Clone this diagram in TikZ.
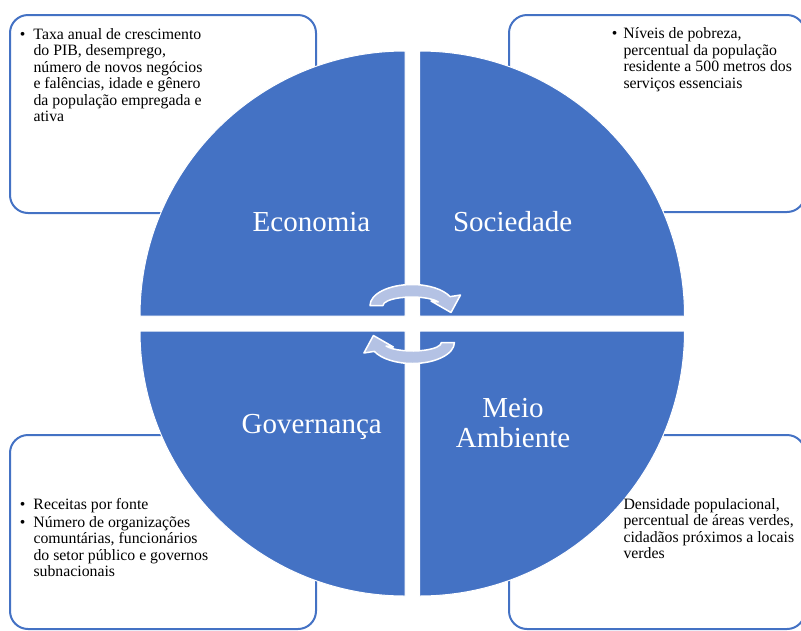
\documentclass[tikz,border=0pt]{standalone}
\usepackage{fontspec}
\setmainfont{Liberation Serif}
\definecolor{quadblue}{RGB}{68,114,196}
\definecolor{arrowblue}{RGB}{180,194,228}
\newcommand{\bul}[1]{\llap{\textbullet\hspace{#1}}}
\tikzset{
  infobox/.style={draw=quadblue, line width=2pt, rounded corners=18pt},
  quadrant/.style={fill=quadblue, draw=white, line width=1pt},
  quadlabel/.style={text=white, font=\fontsize{29}{30}\selectfont, align=center, inner sep=0pt, anchor=base},
  infotext/.style={font=\fontsize{15.8}{16.5}\selectfont, align=left, inner sep=0pt, anchor=base west},
  cyclearrow/.style={fill=arrowblue, draw=white, line width=1.5pt, line join=round},
  turnarrow/.pic={
    \filldraw[cyclearrow] (-42,0) arc[start angle=180, end angle=335, x radius=42, y radius=21]
      -- (48.5,-10.5) -- (39,7) -- (19,-4.5) -- (26.28,-3.59)
      arc[start angle=335, end angle=180, x radius=29, y radius=8.5] -- cycle;
  }
}
\begin{document}
\begin{tikzpicture}[x=1pt,y=-1pt]
\useasboundingbox (0,0) rectangle (801,630);
%%% the four boxes behind the circle
\draw[infobox] (10,15) rectangle (316,213);
\draw[infobox] (509,15) rectangle (805,212);
\draw[infobox] (10,435) rectangle (316,629);
\draw[infobox] (509,435) rectangle (805,629);
%%% the circle in four quarters
\filldraw[quadrant] (405,316) -- (140,316) arc[start angle=180, end angle=270, radius=265] -- cycle;
\filldraw[quadrant] (419.5,316) -- (419.5,51) arc[start angle=270, end angle=360, radius=265] -- cycle;
\filldraw[quadrant] (405,331) -- (140,331) arc[start angle=180, end angle=90, radius=265] -- cycle;
\filldraw[quadrant] (419.5,331) -- (684.5,331) arc[start angle=0, end angle=90, radius=265] -- cycle;
% labels sit on the baseline of their last line
\node[quadlabel] (econ) at (311.5,231.7) {Economia};
\node[quadlabel] (soc) at (512.7,231.7) {Sociedade};
\node[quadlabel] (gov) at (311.7,433.3) {Governança};
\node[quadlabel] (meio) at (513,447.7) {Meio\\Ambiente};
%%% the two turning arrows in the middle
\pic at (412,305.5) {turnarrow};
\pic[rotate=180] at (412.4,342.5) {turnarrow};
%%% texts of the boxes
\node[infotext] (econtxt) at (33.3,121.5) {\bul{8pt}Taxa anual de crescimento\\do PIB, desemprego,\\número de novos negócios\\e falências, idade e gênero\\da população empregada e\\ativa};
\node[infotext] (soctxt) at (623.3,88) {\bul{6pt}Níveis de pobreza,\\percentual da população\\residente a 500 metros dos\\serviços essenciais};
\node[infotext] (govtxt) at (33.3,576.8) {\bul{8pt}Receitas por fonte\\[1.5pt]\bul{8pt}Número de organizações\\comuntárias, funcionários\\do setor público e governos\\subnacionais};
\node[infotext] (meiotxt) at (623.3,558.8) {Densidade populacional,\\percentual de áreas verdes,\\cidadãos próximos a locais\\verdes};
\end{tikzpicture}
\end{document}
